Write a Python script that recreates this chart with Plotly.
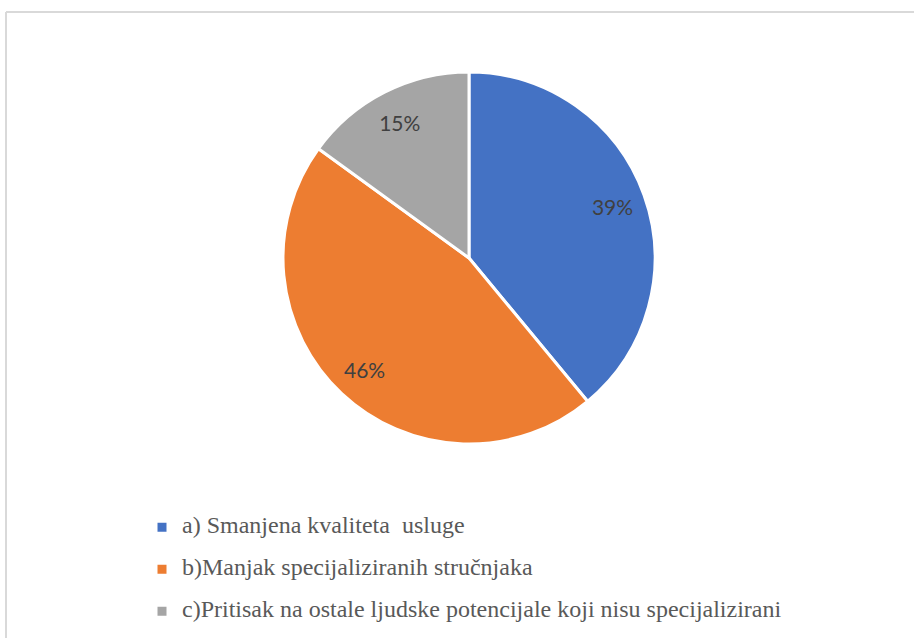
import plotly.graph_objects as go

# answers and their share (in %)
labels = [
    "a) Smanjena kvaliteta \u00a0usluge",
    "b)Manjak specijaliziranih stručnjaka",
    "c)Pritisak na ostale ljudske potencijale koji nisu specijalizirani",
]
values = [39, 46, 15]
colors = ["#4472C4", "#ED7D31", "#A5A5A5"]

W, H = 914, 638
pie_domain = dict(x=[(469 - 186) / W, (469 + 186) / W],
                  y=[1 - 444 / H, 1 - 72 / H])

# legend rows are spaced wide, so each label gets an empty second line
legend_labels = [
    '<span style="font-size:24px">' + l + "</span><br>\u00a0" for l in labels
]

fig = go.Figure()
fig.add_trace(go.Pie(
    labels=legend_labels,
    values=values,
    sort=False,
    direction="clockwise",
    rotation=0,
    marker=dict(colors=colors, line=dict(color="white", width=3)),
    textinfo="none",
    domain=pie_domain,
    hoverinfo="label+percent",
))

# transparent ring on top only to carry the percent labels near the rim
fig.add_trace(go.Pie(
    labels=labels,
    values=values,
    sort=False,
    direction="clockwise",
    rotation=0,
    hole=0.64,
    marker=dict(colors=["rgba(0,0,0,0)"] * 3, line=dict(width=0)),
    textinfo="percent",
    textposition="inside",
    insidetextorientation="horizontal",
    textfont=dict(family="Lato", size=21, color="#404040"),
    domain=pie_domain,
    showlegend=False,
    hoverinfo="skip",
))

# light grey frame: only the top and left edges are inside the picture
frame = dict(type="line", xref="paper", yref="paper",
             line=dict(color="#D9D9D9", width=2))
fig.add_shape(x0=6 / W, x1=1.0, y0=1 - 12 / H, y1=1 - 12 / H, **frame)
fig.add_shape(x0=6 / W, x1=6 / W, y0=0, y1=1 - 12 / H, **frame)

fig.update_layout(
    width=W, height=H,
    margin=dict(l=0, r=0, t=0, b=0, autoexpand=False),
    paper_bgcolor="white",
    plot_bgcolor="white",
    showlegend=True,
    legend=dict(
        x=142 / W, xanchor="left",
        y=1 - 511 / H, yanchor="top",
        font=dict(family="'Liberation Serif', 'Times New Roman', serif",
                  size=15, color="#595959"),
        valign="top",
        bgcolor="rgba(0,0,0,0)",
    ),
)

# drop the default page margin so the figure fills the window
fig.write_html("out.html", config={"displayModeBar": False},
               post_script="document.body.style.margin='0';")
